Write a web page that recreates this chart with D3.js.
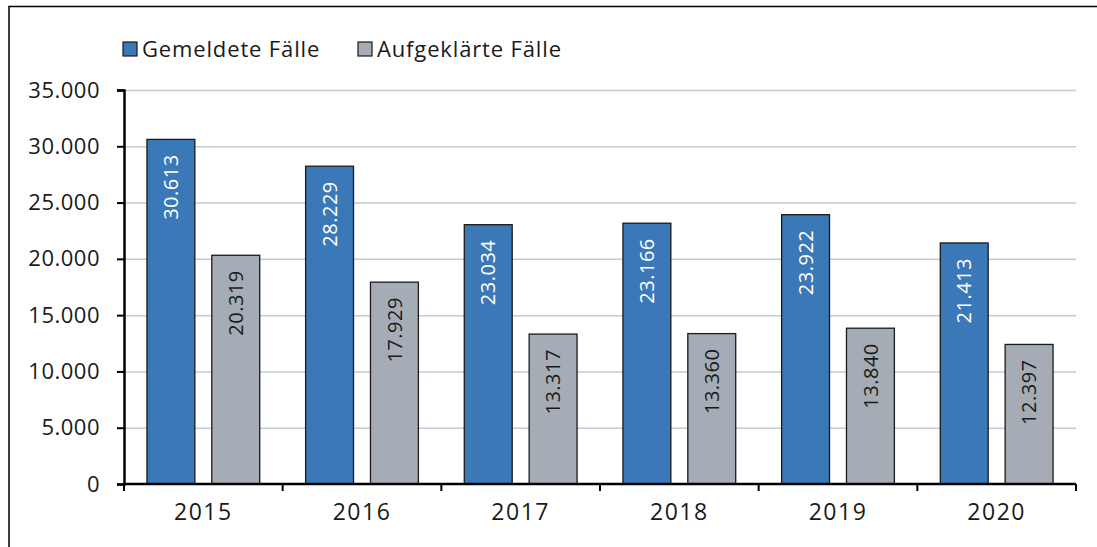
<!DOCTYPE html>
<meta charset="utf-8">
<style>
    body { margin: 0; background: #fff; }
    svg { font-family: "Open Sans", Lato, sans-serif; }
</style>
<body>
<svg width="1097" height="547"></svg>
<script src="https://d3js.org/d3.v7.min.js"></script>
<script>
    var years = ["2015", "2016", "2017", "2018", "2019", "2020"];
    var gemeldet = [30613, 28229, 23034, 23166, 23922, 21413];
    var aufgeklaert = [20319, 17929, 13317, 13360, 13840, 12397];
    var seriesNames = ["Gemeldete Fälle", "Aufgeklärte Fälle"];
    var yTicks = [0, 5000, 10000, 15000, 20000, 25000, 30000, 35000];

    var colors = ["#3b78b8", "#a5acb5"];
    var fmt = function (v) { return d3.format(",")(v).replace(/,/g, "."); };

    var svg = d3.select("svg");
    var margin = { top: 90, right: 21, bottom: 63, left: 124 },
        width = 1097 - margin.left - margin.right,
        height = 547 - margin.top - margin.bottom;

    // frame: only top and left edge visible
    svg.append("path")
        .attr("d", "M9,547 V6.5 H1097")
        .attr("fill", "none")
        .attr("stroke", "#000")
        .attr("stroke-width", 1.5);

    var x = d3.scaleBand().domain(years).range([0, width]);
    var y = d3.scaleLinear().domain([0, 35000]).range([height, 0]);

    var g = svg.append("g").attr("transform", "translate(" + margin.left + "," + margin.top + ")");

    // grid
    g.append("g").selectAll("line")
        .data(yTicks.slice(1))
        .enter().append("line")
        .attr("x1", 0).attr("x2", width)
        .attr("y1", function (d) { return y(d) + 0.5; })
        .attr("y2", function (d) { return y(d) + 0.5; })
        .attr("stroke", "#c3cad5")
        .attr("stroke-width", 1.5);

    var bw = x.bandwidth();
    var barW = bw * 48 / 159, off1 = bw * 23 / 159, off2 = bw * 88 / 159;

    var data = [];
    years.forEach(function (yr, i) {
        data.push({ year: yr, s: 0, v: gemeldet[i], off: off1 });
        data.push({ year: yr, s: 1, v: aufgeklaert[i], off: off2 });
    });

    var bars = g.append("g").selectAll("g").data(data).enter().append("g");
    bars.append("rect")
        .attr("x", function (d) { return x(d.year) + d.off; })
        .attr("y", function (d) { return y(d.v); })
        .attr("width", barW)
        .attr("height", function (d) { return height - y(d.v); })
        .attr("fill", function (d) { return colors[d.s]; })
        .attr("stroke", "#1a1a1a")
        .attr("stroke-width", 1.3);

    bars.append("text")
        .attr("transform", function (d) {
            var cx = x(d.year) + d.off + barW / 2;
            return "translate(" + cx + "," + (y(d.v) + 15) + ") rotate(-90)";
        })
        .attr("text-anchor", "end")
        .attr("dy", "0.36em")
        .attr("font-size", 20)
        .attr("letter-spacing", 0.5)
        .attr("fill", function (d) { return d.s === 0 ? "#fff" : "#1a1a1a"; })
        .text(function (d) { return fmt(d.v); });

    // y axis
    var yAxis = g.append("g")
        .call(d3.axisLeft(y).tickValues(yTicks).tickSize(7).tickPadding(17).tickFormat(fmt));
    yAxis.selectAll("text").attr("font-size", 22).attr("letter-spacing", 0.5)
        .attr("fill", "#1a1a1a").attr("font-family", "'Open Sans', sans-serif");
    yAxis.select(".domain").attr("stroke-width", 2.5);
    yAxis.selectAll(".tick line").attr("stroke-width", 2);

    // x axis
    var xAxis = g.append("g")
        .attr("transform", "translate(0," + height + ")")
        .call(d3.axisBottom(x).tickSize(0).tickPadding(20));
    xAxis.select(".domain").attr("stroke-width", 2.5).attr("d", "M0,0H" + width);
    xAxis.selectAll("text").attr("font-size", 23).attr("letter-spacing", 1.5)
        .attr("fill", "#1a1a1a").attr("font-family", "'Open Sans', sans-serif");
    xAxis.append("g").selectAll("line")
        .data(years.concat(["end"]))
        .enter().append("line")
        .attr("x1", function (d, i) { return i * bw; })
        .attr("x2", function (d, i) { return i * bw; })
        .attr("y1", 0).attr("y2", 7)
        .attr("stroke", "#000").attr("stroke-width", 2);

    // legend
    var legX = [123, 358];
    var leg = svg.append("g").selectAll("g").data(seriesNames).enter().append("g")
        .attr("transform", function (d, i) { return "translate(" + legX[i] + ",42)"; });
    leg.append("rect")
        .attr("width", 14).attr("height", 14)
        .attr("fill", function (d, i) { return colors[i]; })
        .attr("stroke", "#1a1a1a").attr("stroke-width", 1.2);
    leg.append("text")
        .attr("x", 19).attr("y", 7).attr("dy", "0.35em")
        .attr("font-size", 22).attr("letter-spacing", 0.85).attr("fill", "#1a1a1a")
        .text(function (d) { return d; });
</script>
</body>
